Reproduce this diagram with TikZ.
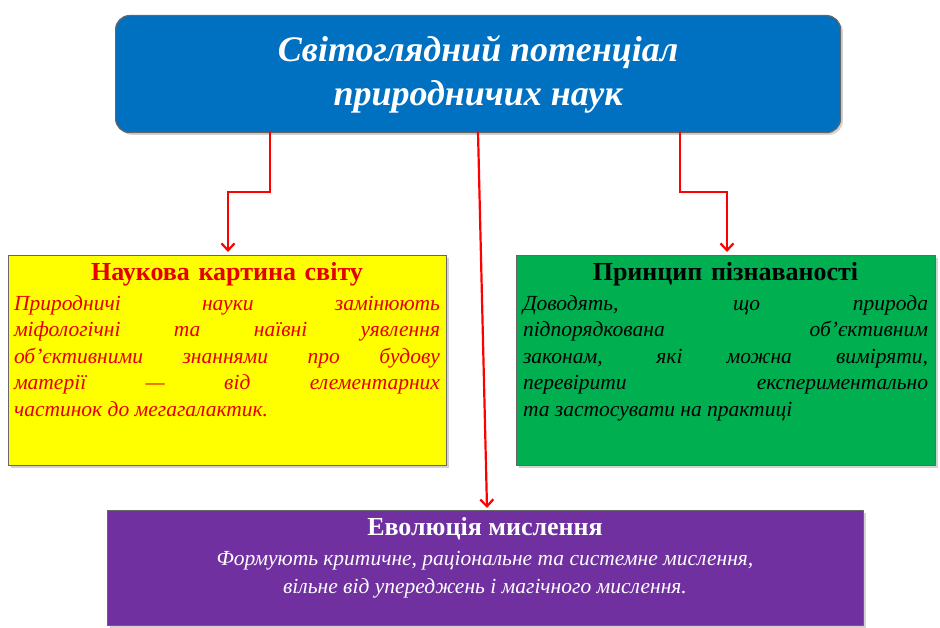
\documentclass[tikz,border=0pt]{standalone}
\usepackage{fontspec}
\setmainfont{Liberation Serif}
\usetikzlibrary{arrows.meta,shadows}
\definecolor{tblue}{HTML}{0070C0}
\definecolor{tgreen}{HTML}{00B050}
\definecolor{tpurple}{HTML}{7030A0}
\definecolor{tyellow}{HTML}{FFFF00}
\tikzset{
 box/.style={draw=black!60, line width=1.2pt, inner sep=0pt, drop shadow={opacity=0.35}},
 conn/.style={red, line width=2.2pt, -{Straight Barb[length=7pt,width=13pt]}},
}
\begin{document}
\begin{tikzpicture}[x=1pt,y=1pt]
\useasboundingbox (0,0) rectangle (940,628);
\node[box, rounded corners=14pt, fill=tblue, minimum width=725, minimum height=117, anchor=north west] (top) at (115,613) {};
\node[text=white, font=\fontsize{36}{44}\selectfont\bfseries\itshape, align=center] (title) at (top.center) {Світоглядний потенціал\\природничих наук};
\node[box, fill=tyellow, minimum width=438, minimum height=210, anchor=north west] (left) at (8,373) {};
\node[anchor=north, text width=426, align=center, font=\fontsize{26}{30}\selectfont\bfseries, text=red!90!black] (lh) at (227,369) {Наукова картина світу};
\node[anchor=north, text width=426, align=justify, font=\fontsize{21.5}{26.5}\selectfont\itshape, text=red!90!black] (lb) at (227,336) {Природничі науки замінюють\linebreak міфологічні та наївні уявлення\linebreak об’єктивними знаннями про будову\linebreak матерії — від елементарних\linebreak частинок до мегагалактик.};
\node[box, fill=tgreen, minimum width=419, minimum height=210, anchor=north west] (right) at (516,373) {};
\node[anchor=north, text width=405, align=center, font=\fontsize{26}{30}\selectfont\bfseries] (rh) at (725.5,369) {Принцип пізнаваності};
\node[anchor=north, text width=405, align=justify, font=\fontsize{21.5}{26.5}\selectfont\itshape] (rb) at (725.5,336) {Доводять, що природа\linebreak підпорядкована об’єктивним\linebreak законам, які можна виміряти,\linebreak перевірити експериментально\linebreak та застосувати на практиці};
\node[box, fill=tpurple, minimum width=756, minimum height=115, anchor=north west] (bot) at (107,118) {};
\node[anchor=north, text=white, font=\fontsize{26}{30}\selectfont\bfseries] (bh) at (485,114) {Еволюція мислення};
\node[anchor=north, text=white, align=center, font=\fontsize{21.5}{28}\selectfont\itshape] (bb) at (485,80) {Формують критичне, раціональне та системне мислення,\\вільне від упереджень і магічного мислення.};
\coordinate (a1) at (270,496);
\coordinate (a2) at (680,496);
\coordinate (a3) at (478,496);
\draw[conn] (a1) -- (270,436) -- (228,436) -- (228,376);
\draw[conn] (a2) -- (680,436) -- (727,436) -- (727,376);
\draw[conn] (a3) -- (487,120);
\end{tikzpicture}
\end{document}
